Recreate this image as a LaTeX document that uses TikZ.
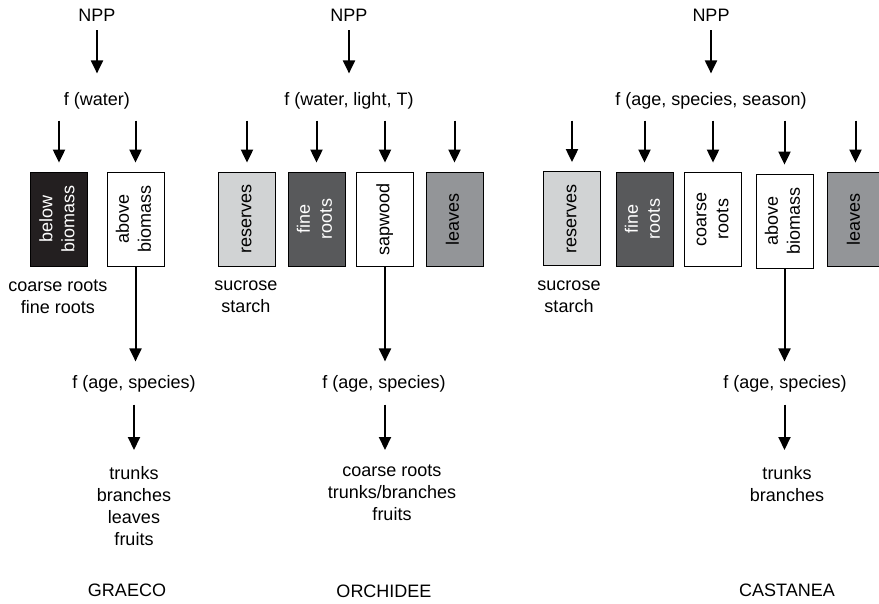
\documentclass[tikz,border=0pt]{standalone}
\usepackage{graphicx}
\usepackage{fontspec}
\setmainfont{Liberation Sans}
\usetikzlibrary{positioning,arrows.meta}
\definecolor{poolblack}{RGB}{35,31,32}
\definecolor{pooldark}{RGB}{88,89,91}
\definecolor{poolgrey}{RGB}{147,149,152}
\definecolor{poollight}{RGB}{209,211,212}
\newcommand{\vlabel}[1]{\rotatebox{90}{\begin{tabular}{@{}c@{}}#1\end{tabular}}}

\begin{document}
\begin{tikzpicture}[x=1pt,y=-1pt,
    txt/.style={inner sep=0pt, align=center, font=\fontsize{18}{22}\selectfont},
    pool/.style={draw, line width=0.8pt, minimum width=57pt, minimum height=94pt, inner sep=0pt, font=\fontsize{18}{22}\selectfont},
    flow/.style={line width=2pt, -{Triangle[width=12pt,length=13pt]}}]
    \clip (0,0) rectangle (879,603);

    % GRAECO
    \node[txt] (nppG) at (97,15) {NPP};
    \node[txt] (fG) at (97,101) {f (water)};
    \node[pool, fill=poolblack, text=white] (belowG) at (59,219) {\vlabel{below\\biomass}};
    \node[pool] (aboveG) at (135.5,219) {\vlabel{above\\biomass}};
    \node[txt] (rootsG) at (58,297) {coarse roots\\fine roots};
    \node[txt] (ageG) at (134,384) {f (age, species)};
    \node[txt, anchor=north] (outG) at (134,466) {trunks\\branches\\leaves\\fruits};
    \node[txt] (nameG) at (127,590) {GRAECO};

    \draw[flow, shorten <=9pt, shorten >=19pt] (nppG) -- (fG);
    \foreach \b in {belowG, aboveG}
        \draw[flow, shorten <=11pt, shorten >=9pt] (fG.south -| \b) -- (\b.north);
    \draw[flow, shorten >=14pt] (aboveG.south) -- (aboveG.south |- ageG.north);
    \draw[flow, shorten <=12pt, shorten >=16pt] (ageG.south) -- (ageG.south |- outG.north);

    % ORCHIDEE
    \node[txt] (nppO) at (349,15) {NPP};
    \node[txt] (fO) at (349,101) {f (water, light, T)};
    \node[pool, fill=poollight] (resO) at (247,219) {\vlabel{reserves}};
    \node[pool, fill=pooldark, text=white] (fineO) at (316.5,219) {\vlabel{fine\\roots}};
    \node[pool] (sapO) at (385,219) {\vlabel{sapwood}};
    \node[pool, fill=poolgrey] (leafO) at (454.5,219) {\vlabel{leaves}};
    \node[txt] (sugarO) at (246,297) {sucrose\\starch};
    \node[txt] (ageO) at (384,384) {f (age, species)};
    \node[txt, anchor=north] (outO) at (392,465) {coarse roots\\trunks/branches\\fruits};
    \node[txt] (nameO) at (384,591) {ORCHIDEE};

    \draw[flow, shorten <=9pt, shorten >=19pt] (nppO) -- (fO);
    \foreach \b in {resO, fineO, sapO, leafO}
        \draw[flow, shorten <=11pt, shorten >=9pt] (fO.south -| \b) -- (\b.north);
    \draw[flow, shorten >=14pt] (sapO.south) -- (sapO.south |- ageO.north);
    \draw[flow, shorten <=12pt, shorten >=15pt] (ageO.south -| sapO.south) -- (sapO.south |- outO.north);

    % CASTANEA
    \node[txt] (nppC) at (711,15) {NPP};
    \node[txt] (fC) at (711,101) {f (age, species, season)};
    \node[pool, fill=poollight] (resC) at (572,218.5) {\vlabel{reserves}};
    \node[pool, fill=pooldark, text=white] (fineC) at (644.5,219) {\vlabel{fine\\roots}};
    \node[pool] (coarseC) at (713,219) {\vlabel{coarse\\roots}};
    \node[pool] (aboveC) at (784.5,221) {\vlabel{above\\biomass}};
    \node[pool, fill=poolgrey] (leafC) at (855.5,219) {\vlabel{leaves}};
    \node[txt] (sugarC) at (569,297) {sucrose\\starch};
    \node[txt] (ageC) at (785,384) {f (age, species)};
    \node[txt, anchor=north] (outC) at (787,466) {trunks\\branches};
    \node[txt] (nameC) at (787,590) {CASTANEA};

    \draw[flow, shorten <=9pt, shorten >=19pt] (nppC) -- (fC);
    \foreach \b in {resC, fineC, coarseC, aboveC, leafC}
        \draw[flow, shorten <=11pt, shorten >=9pt] (fC.south -| \b) -- (\b.north);
    \draw[flow, shorten >=14pt] (aboveC.south) -- (aboveC.south |- ageC.north);
    \draw[flow, shorten <=12pt, shorten >=16pt] (ageC.south -| aboveC.south) -- (aboveC.south |- outC.north);
\end{tikzpicture}
\end{document}
